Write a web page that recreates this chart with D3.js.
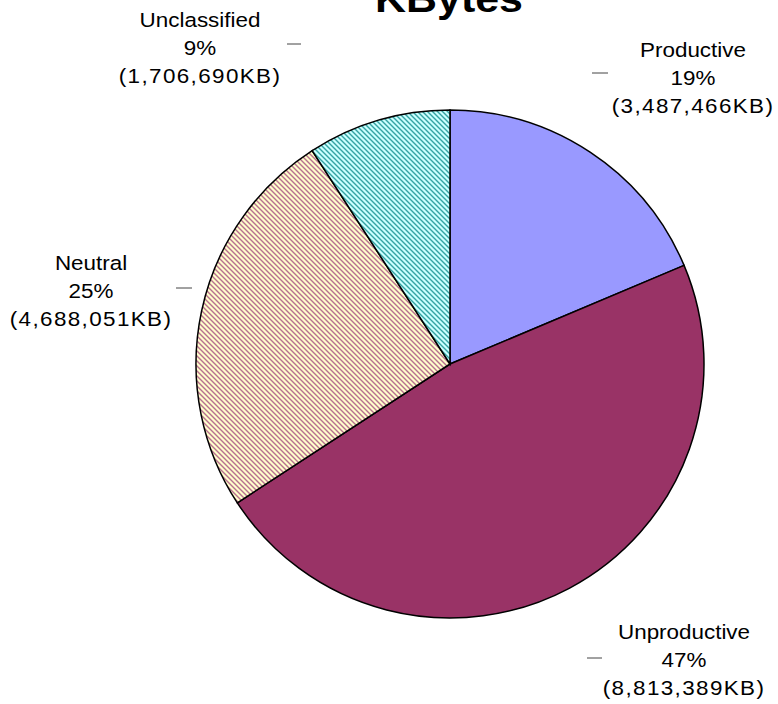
<!doctype html>
<html lang="en">
<head>
    <meta charset="utf-8">
    <title>KBytes</title>
    <style>
        body {
            margin: 0;
            background: #fff;
        }

        #content text {
            font-family: "Liberation Sans", Arial, sans-serif;
            fill: #000;
        }

        #content .slice path {
            stroke: #000;
            stroke-width: 1.5;
        }
    </style>
</head>

<body>
<svg id="content" width="778" height="704"></svg>

<script src="https://cdn.jsdelivr.net/npm/d3@7"></script>
<script>

    // data
    let categories = ['Productive', 'Unproductive', 'Neutral', 'Unclassified'];
    let kbytes = [3487466, 8813389, 4688051, 1706690];
    let percentLabels = ['19%', '47%', '25%', '9%'];

    // look of each slice
    let fills = {
        Productive: {bg: '#9999ff'},
        Unproductive: {bg: '#993366'},
        Neutral: {bg: '#ffffcc', stripe: '#b8708f'},
        Unclassified: {bg: '#ccffff', stripe: '#33a3a3'}
    };

    // where the chart tool put the labels (centre x, first baseline y), and the little leader stub
    let labelPos = {
        Productive: {x: 693, y: 57, tick: [592, 608, 73]},
        Unproductive: {x: 684, y: 639, tick: [587, 602, 658]},
        Neutral: {x: 91, y: 270, tick: [176, 192, 288]},
        Unclassified: {x: 200, y: 27, tick: [287, 301, 44]}
    };

    let svg = d3.select('#content');
    let cx = 450, cy = 364, radius = 254;

    let fmt = d3.format(',');
    let rows = categories.map(function (c, i) {
        return {name: c, value: kbytes[i], pct: percentLabels[i]};
    });

    // stripe patterns
    let defs = svg.append('defs');
    categories.forEach(function (c) {
        let f = fills[c];
        if (!f.stripe) return;
        let p = defs.append('pattern')
            .attr('id', 'pat-' + c)
            .attr('patternUnits', 'userSpaceOnUse')
            .attr('width', 5)
            .attr('height', 5);
        p.append('rect').attr('width', 5).attr('height', 5).attr('fill', f.bg);
        p.append('path')
            .attr('d', 'M-1,-1 L6,6 M-1,4 L1,6 M4,-1 L6,1')
            .attr('stroke', f.stripe)
            .attr('stroke-width', 1.4)
            .attr('fill', 'none');
    });

    // title
    svg.append('text')
        .attr('transform', 'translate(449,12) scale(1.13,1)')
        .attr('text-anchor', 'middle')
        .style('font-size', '38px')
        .style('font-weight', 'bold')
        .text('KBytes');

    let pie = d3.pie().sort(null).value(function (d) { return d.value; });
    let arc = d3.arc().innerRadius(0).outerRadius(radius);

    svg.append('g')
        .attr('class', 'slice')
        .attr('transform', 'translate(' + cx + ',' + cy + ')')
        .selectAll('path')
        .data(pie(rows)).enter()
        .append('path')
        .attr('d', arc)
        .attr('fill', function (d) {
            let f = fills[d.data.name];
            return f.stripe ? 'url(#pat-' + d.data.name + ')' : f.bg;
        });

    // labels
    let lbl = svg.append('g').attr('class', 'labels');
    rows.forEach(function (d) {
        let pos = labelPos[d.name];
        lbl.append('line')
            .attr('x1', pos.tick[0]).attr('x2', pos.tick[1])
            .attr('y1', pos.tick[2]).attr('y2', pos.tick[2])
            .attr('stroke', '#444')
            .attr('stroke-width', 1);
        let t = lbl.append('text')
            .attr('transform', 'translate(' + pos.x + ',' + pos.y + ') scale(1.15,1)')
            .attr('text-anchor', 'middle')
            .style('font-size', '19.5px');
        [d.name, d.pct, '(' + fmt(d.value) + 'KB)'].forEach(function (s, i) {
            t.append('tspan')
                .attr('x', 0)
                .attr('y', i * 28)
                .attr('letter-spacing', i === 2 ? 1.2 : 0)
                .text(s);
        });
    });

</script>
</body>
</html>
